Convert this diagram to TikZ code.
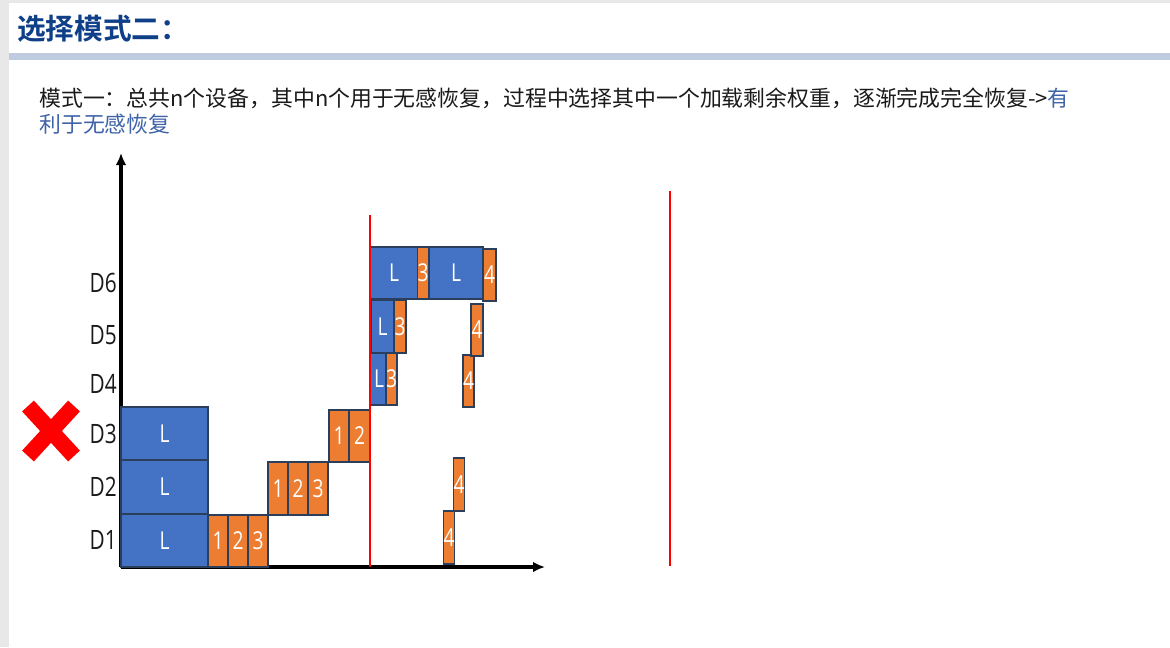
\documentclass[tikz,border=0pt]{standalone}
\usepackage{fontspec}
\usetikzlibrary{arrows.meta}
\setmainfont{Open Sans}
\newfontfamily\labfont{Open Sans}[FakeStretch=0.78]
\newfontfamily\cjk{Noto Sans CJK SC}
\newfontfamily\cjkb{Noto Sans CJK SC Bold}
\definecolor{bgray}{HTML}{E8E8E8}
\definecolor{barblue}{HTML}{BFCCDF}
\definecolor{titleblue}{HTML}{0E3F88}
\definecolor{txtblue}{HTML}{3F62A8}
\definecolor{txtdark}{HTML}{1A1A1A}
\definecolor{fillblue}{HTML}{4472C4}
\definecolor{fillorange}{HTML}{ED7D31}
\definecolor{edgedark}{HTML}{2B3F5C}
\tikzset{
  bar/.style={inner sep=0pt, outer sep=0pt, draw=edgedark, line width=0.9pt, text=white,
    font=\labfont\fontsize{18.5}{18.5}\selectfont},
  bluebar/.style={bar, fill=fillblue},
  orangebar/.style={bar, fill=fillorange},
  dlabel/.style={anchor=east, inner sep=0pt, text=txtdark, font=\labfont\fontsize{20}{20}\selectfont},
  axis/.style={line width=2.4pt, -{Latex[length=9pt,width=8pt]}},
  redline/.style={draw=red, line width=1.9pt},
}
\newcommand{\bx}[7]{%
  \node[#6, minimum width={(#4-#2)*0.75pt}, minimum height={(#5-#3)*0.75pt}] (#1) at ({(#2+#4)/2},{(#3+#5)/2}) {#7};}
\begin{document}
\begin{tikzpicture}[x=0.75pt,y=-0.75pt]
\useasboundingbox (0,0) rectangle (1170,647);
% background
\fill[bgray] (0,0) rectangle (1170,647);
\fill[white] (9,3) rectangle (1170,647);
\fill[barblue] (9,53) rectangle (1170,60);
% title
\node[anchor=west, inner sep=0pt, text=titleblue, font=\cjkb\fontsize{21.5}{22}\selectfont] (title) at (17,29) {选择模式二：};
% body text
\node[anchor=north west, inner sep=0pt, align=left, text=txtdark, font=\cjk\fontsize{16.4}{19.5}\selectfont] (body) at (39,88)
  {模式一：总共n个设备，其中n个用于无感恢复，过程中选择其中一个加载剩余权重，逐渐完成完全恢复->\textcolor{txtblue}{有}\\
   \textcolor{txtblue}{利于无感恢复}};
% axes
\coordinate (O) at (121,567);
\coordinate (ytip) at (121,153);
\coordinate (xtip) at (545,567);
\draw[axis] (O) -- (ytip);
\draw[axis] (O) -- (xtip);
% red lines
\coordinate (r1a) at (370,215);
\coordinate (r1b) at (370,567);
\coordinate (r2a) at (670,191);
\coordinate (r2b) at (670,566);
% row labels
\node[dlabel] (d1) at (117,540) {D1};
\node[dlabel] (d2) at (117,487) {D2};
\node[dlabel] (d3) at (117,434) {D3};
\node[dlabel] (d4) at (117,384) {D4};
\node[dlabel] (d5) at (117,335) {D5};
\node[dlabel] (d6) at (117,283) {D6};
% L boxes
\bx{l3}{121}{407}{208}{460}{bluebar}{L}
\bx{l2}{121}{460}{208}{514}{bluebar}{L}
\bx{l1}{121}{514}{208}{567}{bluebar}{L}
% D1 row
\bx{a1}{208}{515}{228}{567}{orangebar}{1}
\bx{a2}{228}{515}{248}{567}{orangebar}{2}
\bx{a3}{248}{515}{268}{567}{orangebar}{3}
\bx{a4}{444}{511}{454}{564}{orangebar}{4}
% D2 row
\bx{b1}{268}{462}{288}{515}{orangebar}{1}
\bx{b2}{288}{462}{308}{515}{orangebar}{2}
\bx{b3}{308}{462}{328}{515}{orangebar}{3}
\bx{b4}{454}{458}{464}{511}{orangebar}{4}
% D3 row
\bx{c1}{329}{410}{349}{462}{orangebar}{1}
\bx{c2}{349}{410}{370}{462}{orangebar}{2}
% D4 row
\bx{e1}{370}{353}{388}{405}{bluebar}{L}
\bx{e2}{388}{353}{395}{405}{orangebar}{3}
\bx{e3}{465}{355}{472}{407}{orangebar}{4}
% D5 row
\bx{f1}{371}{300}{394}{353}{bluebar}{L}
\bx{f2}{394}{300}{406}{353}{orangebar}{3}
\bx{f3}{471}{304}{483}{356}{orangebar}{4}
% D6 row
\bx{g1}{370}{247}{418}{299}{bluebar}{L}
\bx{g2}{418}{247}{428}{299}{orangebar}{3}
\bx{g3}{429}{247}{483}{299}{bluebar}{L}
\bx{g4}{483}{249}{496}{301}{orangebar}{4}
% red lines on top
\draw[redline] (r1a) -- (r1b);
\draw[redline] (r2a) -- (r2b);
% red cross
\coordinate (xc1) at (28,406);
\coordinate (xc2) at (74,456);
\coordinate (xc3) at (74,406);
\coordinate (xc4) at (28,456);
\draw[red, line width=12pt] (xc1) -- (xc2);
\draw[red, line width=12pt] (xc3) -- (xc4);
\end{tikzpicture}
\end{document}
